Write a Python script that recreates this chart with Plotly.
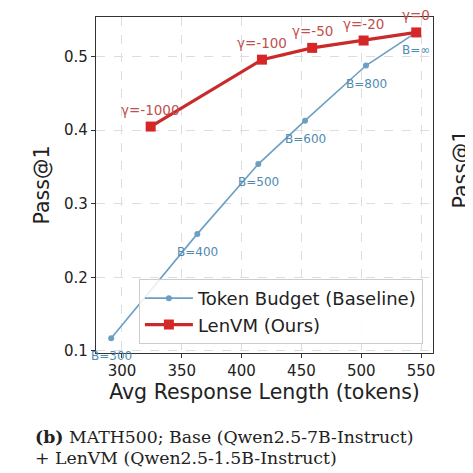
import plotly.graph_objects as go

# Token Budget baseline
budget_len = [291, 363, 414, 453, 504, 546]
budget_pass = [0.117, 0.259, 0.354, 0.413, 0.488, 0.533]
budget_tags = ["B=300", "B=400", "B=500", "B=600", "B=800", "B=\u221e"]

# LenVM (ours)
lenvm_len = [324, 417, 459, 502, 546]
lenvm_pass = [0.405, 0.496, 0.512, 0.522, 0.533]
lenvm_tags = ["\u03b3=-1000", "\u03b3=-100", "\u03b3=-50", "\u03b3=-20", "\u03b3=0"]

x_ticks = [300, 350, 400, 450, 500, 550]
y_ticks = [0.1, 0.2, 0.3, 0.4, 0.5]

blue = "#6b9fc4"
red = "#d62728"

fig = go.Figure()
fig.add_trace(go.Scatter(
    x=budget_len, y=budget_pass, mode="lines+markers",
    name="Token Budget (Baseline)",
    line=dict(color=blue, width=1.6),
    marker=dict(symbol="circle", size=6, color=blue),
))
fig.add_trace(go.Scatter(
    x=lenvm_len, y=lenvm_pass, mode="lines+markers",
    name="LenVM (Ours)",
    line=dict(color="#c92a2a", width=3.2),
    marker=dict(symbol="square", size=10, color=red),
))

for x, y, t in zip(budget_len, budget_pass, budget_tags):
    fig.add_annotation(x=x, y=y, text=t, showarrow=False, yshift=-18,
                       font=dict(size=12, color="#4f8bb0"))
for x, y, t in zip(lenvm_len, lenvm_pass, lenvm_tags):
    fig.add_annotation(x=x, y=y, text=t, showarrow=False, yshift=17,
                       font=dict(size=13.5, color="#c0504d"))

serif = dict(family="DejaVu Serif", size=17.3, color="#222")
# caption under the panel
fig.add_annotation(xref="paper", yref="paper", x=-0.187, y=-0.25,
                   xanchor="left", yanchor="middle", showarrow=False,
                   text="<b>(b)</b> MATH500; Base (Qwen2.5-7B-Instruct)", font=serif)
fig.add_annotation(xref="paper", yref="paper", x=-0.187, y=-0.3125,
                   xanchor="left", yanchor="middle", showarrow=False,
                   text="+ LenVM (Qwen2.5-1.5B-Instruct)", font=serif)

# start of the next panel, cut by the crop on the right
fig.add_annotation(xref="paper", yref="paper", x=1.1246, y=0.6726, textangle=-90,
                   showarrow=False, text="Pass@1",
                   font=dict(family="DejaVu Sans", size=20.5, color="#222"))
fig.add_annotation(xref="paper", yref="paper", x=1.086, y=-0.25, xanchor="left",
                   showarrow=False, text="<b>(c</b>", font=serif)
fig.add_annotation(xref="paper", yref="paper", x=1.086, y=-0.3125, xanchor="left",
                   showarrow=False, text="+", font=serif)

axis_common = dict(
    showline=True, linecolor="#333", linewidth=1.2, mirror=True,
    showgrid=True, gridcolor="#dddddd", griddash="dash", gridwidth=1,
    ticks="outside", ticklen=4, tickcolor="#333",
    tickfont=dict(size=15, color="#222"), zeroline=False,
)

# the page body has an 8px margin, so the figure is pulled up/left by 8px
fig.update_layout(
    width=473, height=473,
    margin=dict(l=88, r=48, t=9, b=128, autoexpand=False),
    paper_bgcolor="white", plot_bgcolor="white",
    font=dict(family="DejaVu Sans", color="#222"),
    xaxis=dict(axis_common, range=[278.3, 560], tickvals=x_ticks,
               title=dict(text="Avg Response Length (tokens)", font=dict(size=20.5), standoff=2)),
    yaxis=dict(axis_common, range=[0.097, 0.554], tickvals=y_ticks,
               tickformat=".1f",
               title=dict(text="Pass@1", font=dict(size=20.5), standoff=8)),
    legend=dict(x=0.97, y=0.027, xanchor="right", yanchor="bottom",
                bgcolor="rgba(255,255,255,0.85)", bordercolor="#cccccc",
                borderwidth=1, itemwidth=48, font=dict(size=18, color="#222")),
    showlegend=True,
)

fig.write_html("out.html")
